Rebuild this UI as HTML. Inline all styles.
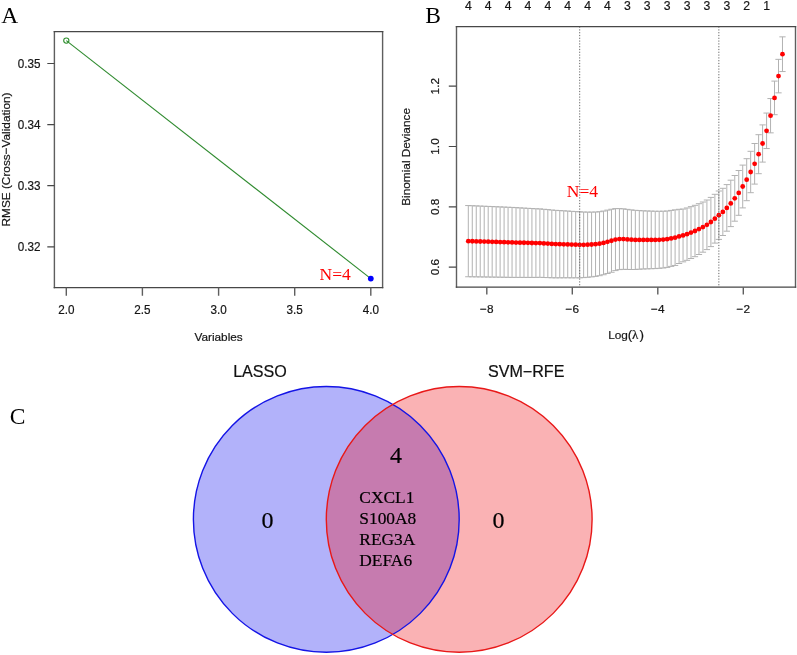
<!DOCTYPE html>
<html><head><meta charset="utf-8"><style>
html,body{margin:0;padding:0;background:#fff;}
body{width:797px;height:655px;overflow:hidden;font-family:"Liberation Sans",sans-serif;}
svg{display:block;filter:blur(0.4px);}
</style></head><body>
<svg width="797" height="655" viewBox="0 0 797 655">
<rect width="797" height="655" fill="#fff"/>
<text x="1.3" y="22.9" font-family="Liberation Serif, serif" font-size="23.5">A</text>
<path d="M54.4 31 V288.2 M382.6 31 V288.2" stroke="#5e5e5e" stroke-width="1.4" fill="none"/>
<path d="M53.7 31.6 H383.3 M53.7 287.6 H383.3" stroke="#474747" stroke-width="1.2" fill="none"/>
<path d="M47.3 63.5H54.5M47.3 124.6H54.5M47.3 185.7H54.5M47.3 246.8H54.5" stroke="#474747" stroke-width="1.2" fill="none"/>
<path d="M66.3 287.5V295.8M142.4 287.5V295.8M218.6 287.5V295.8M294.7 287.5V295.8M370.8 287.5V295.8" stroke="#5e5e5e" stroke-width="1.4" fill="none"/>
<g font-family="Liberation Sans, sans-serif" font-size="11.8" fill="#151515" stroke="#151515" stroke-width="0.2">
<text transform="translate(40.6 68) scale(0.93 1)" font-size="12.6" text-anchor="end">0.35</text>
<text transform="translate(40.6 129.1) scale(0.93 1)" font-size="12.6" text-anchor="end">0.34</text>
<text transform="translate(40.6 190.2) scale(0.93 1)" font-size="12.6" text-anchor="end">0.33</text>
<text transform="translate(40.6 251.3) scale(0.93 1)" font-size="12.6" text-anchor="end">0.32</text>
<text transform="translate(66.3 313.8) scale(0.93 1)" font-size="12.6" text-anchor="middle">2.0</text>
<text transform="translate(142.4 313.8) scale(0.93 1)" font-size="12.6" text-anchor="middle">2.5</text>
<text transform="translate(218.6 313.8) scale(0.93 1)" font-size="12.6" text-anchor="middle">3.0</text>
<text transform="translate(294.7 313.8) scale(0.93 1)" font-size="12.6" text-anchor="middle">3.5</text>
<text transform="translate(370.8 313.8) scale(0.93 1)" font-size="12.6" text-anchor="middle">4.0</text>
<text x="218.6" y="340.9" text-anchor="middle">Variables</text>
<text transform="translate(9.9 159.5) rotate(-90)" text-anchor="middle">RMSE (Cross−Validation)</text>
</g>
<line x1="66.3" y1="40.6" x2="370.8" y2="278.6" stroke="#2e8a2e" stroke-width="1.1"/>
<circle cx="66.3" cy="40.6" r="2.6" fill="none" stroke="#2f8f2f" stroke-width="1.1"/>
<circle cx="370.8" cy="278.6" r="2.9" fill="#0000ff"/>
<text x="335.2" y="280.2" font-family="Liberation Serif, serif" font-size="17.5" fill="#ff0000" text-anchor="middle">N=4</text>
<text x="425.3" y="23.3" font-family="Liberation Serif, serif" font-size="23.5">B</text>
<path d="M468.3 205.55V276.75M465.16 205.55H471.44M465.16 276.75H471.44M472.28 205.72V276.81M469.14 205.72H475.42M469.14 276.81H475.42M476.25 205.89V276.87M473.11 205.89H479.39M473.11 276.87H479.39M480.23 206.06V276.93M477.09 206.06H483.37M477.09 276.93H483.37M484.21 206.23V276.99M481.07 206.23H487.35M481.07 276.99H487.35M488.19 206.4V277.05M485.05 206.4H491.32M485.05 277.05H491.32M492.16 206.57V277.11M489.02 206.57H495.3M489.02 277.11H495.3M496.14 206.73V277.17M493 206.73H499.28M493 277.17H499.28M500.12 206.9V277.23M496.98 206.9H503.26M496.98 277.23H503.26M504.09 207.07V277.29M500.95 207.07H507.23M500.95 277.29H507.23M508.07 207.24V277.35M504.93 207.24H511.21M504.93 277.35H511.21M512.05 207.41V277.41M508.91 207.41H515.19M508.91 277.41H515.19M516.02 207.64V277.42M512.88 207.64H519.16M512.88 277.42H519.16M520 207.86V277.42M516.86 207.86H523.14M516.86 277.42H523.14M523.98 208.09V277.42M520.84 208.09H527.12M520.84 277.42H527.12M527.96 208.32V277.43M524.82 208.32H531.1M524.82 277.43H531.1M531.93 208.54V277.43M528.79 208.54H535.07M528.79 277.43H535.07M535.91 208.77V277.43M532.77 208.77H539.05M532.77 277.43H539.05M539.89 208.88V277.32M536.75 208.88H543.03M536.75 277.32H543.03M543.86 209.29V277.51M540.72 209.29H547M540.72 277.51H547M547.84 209.6V277.6M544.7 209.6H550.98M544.7 277.6H550.98M551.82 210.03V277.77M548.68 210.03H554.96M548.68 277.77H554.96M555.79 210.35V277.85M552.65 210.35H558.93M552.65 277.85H558.93M559.77 210.57V277.82M556.63 210.57H562.91M556.63 277.82H562.91M563.75 210.8V277.8M560.61 210.8H566.89M560.61 277.8H566.89M567.73 211.03V277.77M564.59 211.03H570.87M564.59 277.77H570.87M571.7 211.35V277.85M568.56 211.35H574.84M568.56 277.85H574.84M575.68 211.57V277.82M572.54 211.57H578.82M572.54 277.82H578.82M579.66 211.8V277.8M576.52 211.8H582.8M576.52 277.8H582.8M583.63 212V277.6M580.49 212H586.77M580.49 277.6H586.77M587.61 212.1V277.3M584.47 212.1H590.75M584.47 277.3H590.75M591.59 212.1V276.9M588.45 212.1H594.73M588.45 276.9H594.73M595.56 212V276.4M592.42 212H598.7M592.42 276.4H598.7M599.54 211.7V275.7M596.4 211.7H602.68M596.4 275.7H602.68M603.52 211.07V274.73M600.38 211.07H606.66M600.38 274.73H606.66M607.5 210.13V273.47M604.36 210.13H610.63M604.36 273.47H610.63M611.47 209.25V272.25M608.33 209.25H614.61M608.33 272.25H614.61M615.45 208.6V270.6M612.31 208.6H618.59M612.31 270.6H618.59M619.43 208.6V269.6M616.29 208.6H622.57M616.29 269.6H622.57M623.4 208.83V269.37M620.26 208.83H626.54M620.26 269.37H626.54M627.38 209.37V269.43M624.24 209.37H630.52M624.24 269.43H630.52M631.36 209.9V269.5M628.22 209.9H634.5M628.22 269.5H634.5M635.33 210.33V269.47M632.19 210.33H638.47M632.19 269.47H638.47M639.31 210.57V269.23M636.17 210.57H642.45M636.17 269.23H642.45M643.29 210.8V269M640.15 210.8H646.43M640.15 269H646.43M647.26 210.94V268.86M644.12 210.94H650.4M644.12 268.86H650.4M651.24 211.08V268.72M648.1 211.08H654.38M648.1 268.72H654.38M655.22 211.22V268.58M652.08 211.22H658.36M652.08 268.58H658.36M659.2 211.26V268.34M656.06 211.26H662.34M656.06 268.34H662.34M663.17 211.2V268M660.03 211.2H666.31M660.03 268H666.31M667.15 211V267.4M664.01 211H670.29M664.01 267.4H670.29M671.13 210.4V266.4M667.99 210.4H674.27M667.99 266.4H674.27M675.1 209.85V265.45M671.96 209.85H678.24M671.96 265.45H678.24M679.08 209.3V263.5M675.94 209.3H682.22M675.94 263.5H682.22M683.06 209.05V261.85M679.92 209.05H686.2M679.92 261.85H686.2M687.03 207.98V260.32M683.89 207.98H690.17M683.89 260.32H690.17M691.01 206.67V258.53M687.87 206.67H694.15M687.87 258.53H694.15M694.99 205.3V256.7M691.85 205.3H698.13M691.85 256.7H698.13M698.97 203.7V254.5M695.83 203.7H702.11M695.83 254.5H702.11M702.94 202V252.2M699.8 202H706.08M699.8 252.2H706.08M706.92 200V249.6M703.78 200H710.06M703.78 249.6H710.06M710.9 197.4V246.6M707.76 197.4H714.04M707.76 246.6H714.04M714.87 194.3V243.1M711.73 194.3H718.01M711.73 243.1H718.01M718.85 191V239.4M715.71 191H721.99M715.71 239.4H721.99M722.83 188.3V235.5M719.69 188.3H725.97M719.69 235.5H725.97M726.81 184.6V231.2M723.67 184.6H729.95M723.67 231.2H729.95M730.78 180.2V226.6M727.64 180.2H733.92M727.64 226.6H733.92M734.76 175.5V221.2M731.62 175.5H737.9M731.62 221.2H737.9M738.74 170.5V215.3M735.6 170.5H741.88M735.6 215.3H741.88M742.71 165.1V207.9M739.57 165.1H745.85M739.57 207.9H745.85M746.69 158.7V200.7M743.55 158.7H749.83M743.55 200.7H749.83M750.67 151.3V192.7M747.53 151.3H753.81M747.53 192.7H753.81M754.64 143.5V184.1M751.5 143.5H757.78M751.5 184.1H757.78M758.62 134.7V173.7M755.48 134.7H761.76M755.48 173.7H761.76M762.6 124.9V162.1M759.46 124.9H765.74M759.46 162.1H765.74M766.58 113.05V148.55M763.44 113.05H769.72M763.44 148.55H769.72M770.55 98.55V132.85M767.41 98.55H773.69M767.41 132.85H773.69M774.53 81.1V114.7M771.39 81.1H777.67M771.39 114.7H777.67M778.51 59.35V92.85M775.37 59.35H781.65M775.37 92.85H781.65M782.48 36.85V71.55M779.34 36.85H785.62M779.34 71.55H785.62" stroke="#b2b2b2" stroke-width="1" fill="none"/>
<g fill="#ff0000"><circle cx="468.3" cy="241.15" r="2.4"/><circle cx="472.28" cy="241.26" r="2.4"/><circle cx="476.25" cy="241.38" r="2.4"/><circle cx="480.23" cy="241.49" r="2.4"/><circle cx="484.21" cy="241.61" r="2.4"/><circle cx="488.19" cy="241.72" r="2.4"/><circle cx="492.16" cy="241.84" r="2.4"/><circle cx="496.14" cy="241.95" r="2.4"/><circle cx="500.12" cy="242.07" r="2.4"/><circle cx="504.09" cy="242.18" r="2.4"/><circle cx="508.07" cy="242.3" r="2.4"/><circle cx="512.05" cy="242.41" r="2.4"/><circle cx="516.02" cy="242.53" r="2.4"/><circle cx="520" cy="242.64" r="2.4"/><circle cx="523.98" cy="242.76" r="2.4"/><circle cx="527.96" cy="242.87" r="2.4"/><circle cx="531.93" cy="242.99" r="2.4"/><circle cx="535.91" cy="243.1" r="2.4"/><circle cx="539.89" cy="243.1" r="2.4"/><circle cx="543.86" cy="243.4" r="2.4"/><circle cx="547.84" cy="243.6" r="2.4"/><circle cx="551.82" cy="243.9" r="2.4"/><circle cx="555.79" cy="244.1" r="2.4"/><circle cx="559.77" cy="244.2" r="2.4"/><circle cx="563.75" cy="244.3" r="2.4"/><circle cx="567.73" cy="244.4" r="2.4"/><circle cx="571.7" cy="244.6" r="2.4"/><circle cx="575.68" cy="244.7" r="2.4"/><circle cx="579.66" cy="244.8" r="2.4"/><circle cx="583.63" cy="244.8" r="2.4"/><circle cx="587.61" cy="244.7" r="2.4"/><circle cx="591.59" cy="244.5" r="2.4"/><circle cx="595.56" cy="244.2" r="2.4"/><circle cx="599.54" cy="243.7" r="2.4"/><circle cx="603.52" cy="242.9" r="2.4"/><circle cx="607.5" cy="241.8" r="2.4"/><circle cx="611.47" cy="240.75" r="2.4"/><circle cx="615.45" cy="239.6" r="2.4"/><circle cx="619.43" cy="239.1" r="2.4"/><circle cx="623.4" cy="239.1" r="2.4"/><circle cx="627.38" cy="239.4" r="2.4"/><circle cx="631.36" cy="239.7" r="2.4"/><circle cx="635.33" cy="239.9" r="2.4"/><circle cx="639.31" cy="239.9" r="2.4"/><circle cx="643.29" cy="239.9" r="2.4"/><circle cx="647.26" cy="239.9" r="2.4"/><circle cx="651.24" cy="239.9" r="2.4"/><circle cx="655.22" cy="239.9" r="2.4"/><circle cx="659.2" cy="239.8" r="2.4"/><circle cx="663.17" cy="239.6" r="2.4"/><circle cx="667.15" cy="239.2" r="2.4"/><circle cx="671.13" cy="238.4" r="2.4"/><circle cx="675.1" cy="237.65" r="2.4"/><circle cx="679.08" cy="236.4" r="2.4"/><circle cx="683.06" cy="235.45" r="2.4"/><circle cx="687.03" cy="234.15" r="2.4"/><circle cx="691.01" cy="232.6" r="2.4"/><circle cx="694.99" cy="231" r="2.4"/><circle cx="698.97" cy="229.1" r="2.4"/><circle cx="702.94" cy="227.1" r="2.4"/><circle cx="706.92" cy="224.8" r="2.4"/><circle cx="710.9" cy="222" r="2.4"/><circle cx="714.87" cy="218.7" r="2.4"/><circle cx="718.85" cy="215.2" r="2.4"/><circle cx="722.83" cy="211.9" r="2.4"/><circle cx="726.81" cy="207.9" r="2.4"/><circle cx="730.78" cy="203.4" r="2.4"/><circle cx="734.76" cy="198.35" r="2.4"/><circle cx="738.74" cy="192.9" r="2.4"/><circle cx="742.71" cy="186.5" r="2.4"/><circle cx="746.69" cy="179.7" r="2.4"/><circle cx="750.67" cy="172" r="2.4"/><circle cx="754.64" cy="163.8" r="2.4"/><circle cx="758.62" cy="154.2" r="2.4"/><circle cx="762.6" cy="143.5" r="2.4"/><circle cx="766.58" cy="130.8" r="2.4"/><circle cx="770.55" cy="115.7" r="2.4"/><circle cx="774.53" cy="97.9" r="2.4"/><circle cx="778.51" cy="76.1" r="2.4"/><circle cx="782.48" cy="54.2" r="2.4"/></g>
<path d="M579.7 26.5V287M718.85 26.5V287" stroke="#666" stroke-width="1" stroke-dasharray="1.2 1.6" fill="none"/>
<path d="M456.5 26 V287.8 M795.5 26 V287.8" stroke="#5e5e5e" stroke-width="1.4" fill="none"/>
<path d="M455.8 26.6 H796.2 M455.8 287.2 H796.2" stroke="#474747" stroke-width="1.2" fill="none"/>
<path d="M448.8 267.1H456.3M448.8 206.8H456.3M448.8 146.5H456.3M448.8 86.2H456.3" stroke="#474747" stroke-width="1.2" fill="none"/>
<path d="M486.8 287.2V294.4M572.3 287.2V294.4M657.8 287.2V294.4M743.3 287.2V294.4" stroke="#5e5e5e" stroke-width="1.4" fill="none"/>
<g font-family="Liberation Sans, sans-serif" font-size="11.8" fill="#151515" stroke="#151515" stroke-width="0.2">
<text transform="translate(439.3 267.1) rotate(-90)" text-anchor="middle">0.6</text>
<text transform="translate(439.3 206.8) rotate(-90)" text-anchor="middle">0.8</text>
<text transform="translate(439.3 146.5) rotate(-90)" text-anchor="middle">1.0</text>
<text transform="translate(439.3 86.2) rotate(-90)" text-anchor="middle">1.2</text>
<text x="486.8" y="312.8" text-anchor="middle">−8</text>
<text x="572.3" y="312.8" text-anchor="middle">−6</text>
<text x="657.8" y="312.8" text-anchor="middle">−4</text>
<text x="743.3" y="312.8" text-anchor="middle">−2</text>
<text x="468.3" y="9.7" font-size="12.2" text-anchor="middle">4</text>
<text x="488.19" y="9.7" font-size="12.2" text-anchor="middle">4</text>
<text x="508.07" y="9.7" font-size="12.2" text-anchor="middle">4</text>
<text x="527.96" y="9.7" font-size="12.2" text-anchor="middle">4</text>
<text x="547.84" y="9.7" font-size="12.2" text-anchor="middle">4</text>
<text x="567.73" y="9.7" font-size="12.2" text-anchor="middle">4</text>
<text x="587.61" y="9.7" font-size="12.2" text-anchor="middle">4</text>
<text x="607.5" y="9.7" font-size="12.2" text-anchor="middle">4</text>
<text x="627.38" y="9.7" font-size="12.2" text-anchor="middle">3</text>
<text x="647.26" y="9.7" font-size="12.2" text-anchor="middle">3</text>
<text x="667.15" y="9.7" font-size="12.2" text-anchor="middle">3</text>
<text x="687.03" y="9.7" font-size="12.2" text-anchor="middle">3</text>
<text x="706.92" y="9.7" font-size="12.2" text-anchor="middle">3</text>
<text x="726.81" y="9.7" font-size="12.2" text-anchor="middle">3</text>
<text x="746.69" y="9.7" font-size="12.2" text-anchor="middle">2</text>
<text x="766.58" y="9.7" font-size="12.2" text-anchor="middle">1</text>
<text x="608.2" y="338.8">Log</text><text x="627.8" y="338.8" font-size="13.5">(</text><text x="632" y="338.8" font-family="Liberation Serif, serif" font-size="13">λ</text><text x="639.6" y="338.8" font-size="13.5">)</text>
<text transform="translate(410.1 156.9) rotate(-90)" text-anchor="middle">Binomial Deviance</text>
</g>
<text x="582.5" y="197" font-family="Liberation Serif, serif" font-size="17.5" fill="#ff0000" text-anchor="middle">N=4</text>
<text x="9.8" y="423.6" font-family="Liberation Serif, serif" font-size="23.5">C</text>
<defs><clipPath id="cb"><circle cx="326.3" cy="519.4" r="132.9"/></clipPath></defs>
<circle cx="326.3" cy="519.4" r="132.9" fill="rgb(178,178,250)"/>
<circle cx="459.2" cy="519.4" r="132.9" fill="rgb(250,178,180)"/>
<circle cx="459.2" cy="519.4" r="132.9" fill="rgb(198,123,175)" clip-path="url(#cb)"/>
<circle cx="326.3" cy="519.4" r="132.9" fill="none" stroke="#1414e6" stroke-width="1.4"/>
<circle cx="459.2" cy="519.4" r="132.9" fill="none" stroke="#e81818" stroke-width="1.4"/>
<g font-family="Liberation Sans, sans-serif" font-size="16.1" fill="#111" stroke="#111" stroke-width="0.2" text-anchor="middle">
<text x="260" y="377.3">LASSO</text>
<text x="526.2" y="377.3">SVM−RFE</text>
</g>
<g font-family="Liberation Serif, serif" font-size="24" fill="#000" stroke="#000" stroke-width="0.2" text-anchor="middle">
<text x="267.6" y="527.9">0</text>
<text x="498.5" y="527.9">0</text>
<text x="395.9" y="462.8">4</text>
</g>
<g font-family="Liberation Serif, serif" font-size="17.4" fill="#000" stroke="#000" stroke-width="0.2">
<text x="359.3" y="503">CXCL1</text>
<text x="359.3" y="524">S100A8</text>
<text x="359.3" y="545">REG3A</text>
<text x="359.3" y="566">DEFA6</text>
</g>
</svg>
</body></html>
